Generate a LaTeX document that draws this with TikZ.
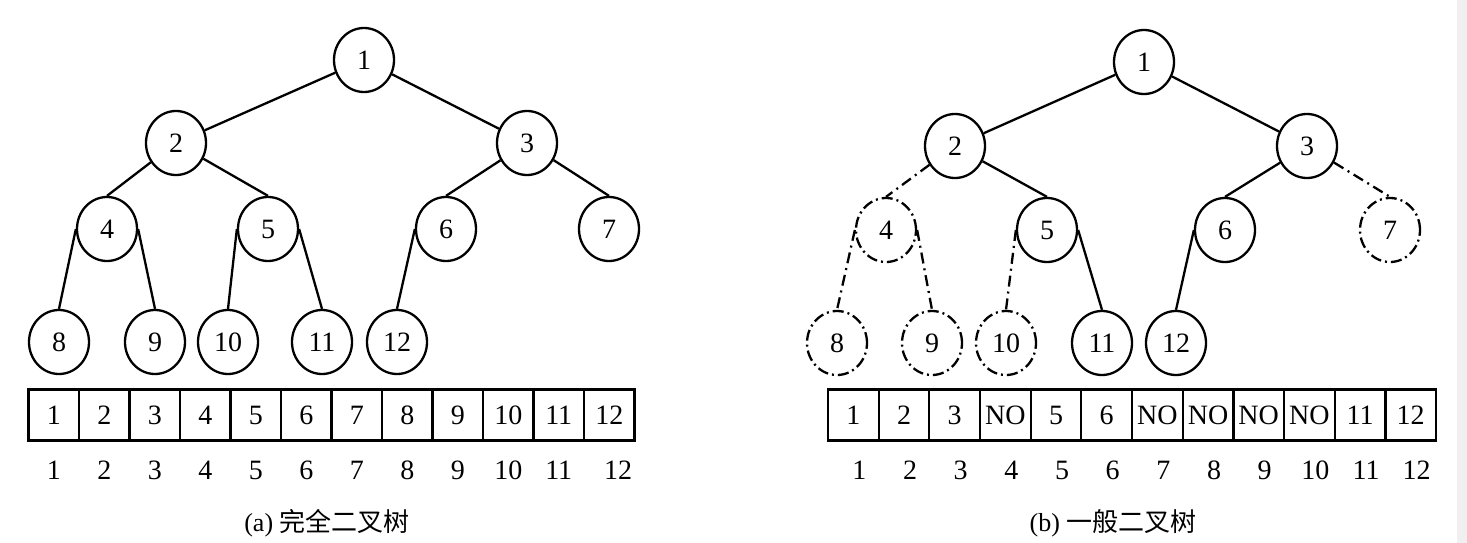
\documentclass[tikz,border=0pt]{standalone}
\usepackage{fontspec}
\setmainfont{Liberation Serif}
\newfontfamily\cjk{Noto Sans CJK SC}
\usetikzlibrary{shapes.geometric}
\begin{document}
\begin{tikzpicture}[x=1pt,y=-1pt,
  tnode/.style={ellipse,draw,line width=2.3pt,minimum width=60pt,minimum height=64pt,inner sep=0pt,font=\fontsize{28}{30}\selectfont},
  dnode/.style={tnode,dash pattern=on 11pt off 4pt on 2pt off 4pt},
  edge/.style={line width=2.3pt},
  dedge/.style={edge,dash pattern=on 11pt off 5pt on 2pt off 5pt},
  cellbox/.style={draw,line width=2.2pt,minimum width=50.6pt,minimum height=51pt,inner sep=0pt,outer sep=0pt,font=\fontsize{28}{30}\selectfont},
  idx/.style={inner sep=0pt,font=\fontsize{28}{30}\selectfont},
  captext/.style={inner sep=0pt,font=\fontsize{26}{30}\selectfont}
]
\useasboundingbox (0,0) rectangle (1467,543);
\fill[white] (0,0) rectangle (1467,543);
\fill[black!6] (1457,0) rectangle (1467,543);

% ---------- (a) complete binary tree ----------
\node[tnode] (a1) at (364,60) {1};
\node[tnode] (a2) at (176,143) {2};
\node[tnode] (a3) at (527,143) {3};
\node[tnode] (a4) at (107,229) {4};
\node[tnode] (a5) at (268,229) {5};
\node[tnode] (a6) at (446,229) {6};
\node[tnode] (a7) at (609,229) {7};
\node[tnode] (a8) at (59,342) {8};
\node[tnode] (a9) at (155,342) {9};
\node[tnode] (a10) at (228,342) {10};
\node[tnode] (a11) at (322,342) {11};
\node[tnode] (a12) at (397,342) {12};

\draw[edge] (a1) -- (a2);
\draw[edge] (a1) -- (a3);
\draw[edge] (a2) -- (a4.north);
\draw[edge] (a2) -- (a5.north);
\draw[edge] (a3) -- (a6.north);
\draw[edge] (a3) -- (a7.north);
\draw[edge] (a4.west) -- (a8.north);
\draw[edge] (a4.east) -- (a9.north);
\draw[edge] (a5.west) -- (a10.north);
\draw[edge] (a5.east) -- (a11.north);
\draw[edge] (a6.west) -- (a12.north);

\foreach \v [count=\i] in {1,2,3,4,5,6,7,8,9,10,11,12}
  \node[cellbox] (ac\i) at ({28.5+50.5*(\i-0.5)},415) {\v};
\foreach \v [count=\i] in {1,2,3,4,5,6,7,8,9,10,11}
  \node[idx] (ai\i) at ({28.5+50.5*(\i-0.5)},470) {\v};
\node[idx] (ai12) at (618,470) {12};
\node[captext] (capa) at (327,523) {(a) {\cjk 完全二叉树}};

% ---------- (b) general binary tree ----------
\node[tnode] (b1) at (1144,62) {1};
\node[tnode] (b2) at (955,146) {2};
\node[tnode] (b3) at (1307,146) {3};
\node[dnode] (b4) at (886,230) {4};
\node[tnode] (b5) at (1047,230) {5};
\node[tnode] (b6) at (1225,230) {6};
\node[dnode] (b7) at (1390,230) {7};
\node[dnode] (b8) at (837,343) {8};
\node[dnode] (b9) at (932,343) {9};
\node[dnode] (b10) at (1006,343) {10};
\node[tnode] (b11) at (1102,343) {11};
\node[tnode] (b12) at (1176,343) {12};

\draw[edge] (b1) -- (b2);
\draw[edge] (b1) -- (b3);
\draw[dedge] (b2) -- (b4.north);
\draw[edge] (b2) -- (b5.north);
\draw[edge] (b3) -- (b6.north);
\draw[dedge] (b3) -- (b7.north);
\draw[dedge] (b4.west) -- (b8.north);
\draw[dedge] (b4.east) -- (b9.north);
\draw[dedge] (b5.west) -- (b10.north);
\draw[edge] (b5.east) -- (b11.north);
\draw[edge] (b6.west) -- (b12.north);

\foreach \v [count=\i] in {1,2,3,NO,5,6,NO,NO,NO,NO,11,12}
  \node[cellbox] (bc\i) at ({828+50.67*(\i-0.5)},415) {\v};
\foreach \v [count=\i] in {1,2,3,4,5,6,7,8,9,10,11,12}
  \node[idx] (bi\i) at ({834+50.67*(\i-0.5)},470) {\v};
\node[captext] (capb) at (1113,523) {(b) {\cjk 一般二叉树}};
\end{tikzpicture}
\end{document}
